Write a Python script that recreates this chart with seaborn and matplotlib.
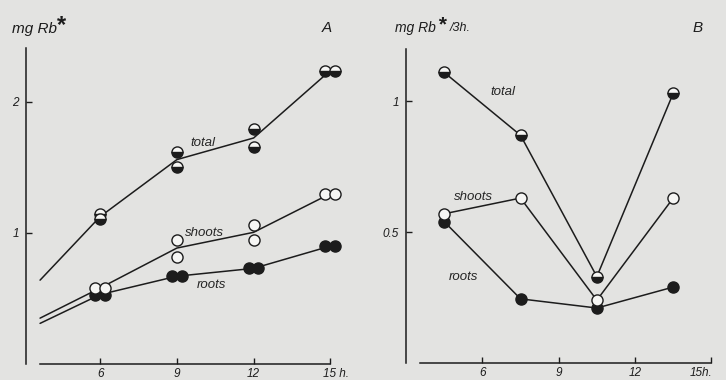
import numpy as np
import pandas as pd
import matplotlib
matplotlib.use("Agg")
import matplotlib.pyplot as plt
import matplotlib.transforms as mtransforms
import seaborn as sns

# Panel A: cumulative uptake, two replicates per time
hours_A = [6, 9, 12, 15]
t0_A = 3.65  # where the drawn lines begin
total_A_rep1 = [1.145, 1.62, 1.79, 2.24]
total_A_rep2 = [1.105, 1.50, 1.66, 2.24]
total_A_start = 0.64
shoots_A_rep1 = [0.58, 0.95, 1.06, 1.30]
shoots_A_rep2 = [0.58, 0.82, 0.95, 1.30]
shoots_A_start = 0.35
roots_A_rep1 = [0.53, 0.67, 0.73, 0.90]
roots_A_rep2 = [0.53, 0.67, 0.73, 0.90]
roots_A_start = 0.31

# Panel B: uptake per 3 h (interval midpoints)
hours_B = [4.5, 7.5, 10.5, 13.5]
total_B = [1.11, 0.87, 0.33, 1.03]
shoots_B = [0.57, 0.63, 0.24, 0.63]
roots_B = [0.54, 0.245, 0.21, 0.29]

xtick_vals = [6, 9, 12, 15]
xtick_labels_A = ["6", "9", "12", "15 h."]
xtick_labels_B = ["6", "9", "12", "15h."]

BG = "#e3e3e1"
INK = "#1c1c1c"
WHITE = "#f6f6f4"

sns.set_theme(style="ticks", rc={"axes.facecolor": BG, "figure.facecolor": BG})
plt.rcParams["font.family"] = ["Liberation Sans", "DejaVu Sans"]
plt.rcParams["font.style"] = "italic"

fig = plt.figure(figsize=(7.26, 3.80), dpi=100)
axA = fig.add_axes([26 / 726, 1 - 364 / 380, 312 / 726, 321 / 380])
axB = fig.add_axes([406 / 726, 1 - 363 / 380, 313 / 726, 322 / 380])

styles = {
    "total": dict(mfc=INK, markerfacecoloralt=WHITE, fillstyle="bottom"),
    "shoots": dict(mfc=WHITE, fillstyle="full"),
    "roots": dict(mfc=INK, fillstyle="full"),
}


def markers(ax, x, y, kind):
    ax.plot(x, y, ls="none", marker="o", ms=8, mec=INK, mew=1.0, zorder=4,
            clip_on=False, **styles[kind])


# ---- panel A ----
seriesA = [
    ("roots", roots_A_start, roots_A_rep1, roots_A_rep2),
    ("shoots", shoots_A_start, shoots_A_rep1, shoots_A_rep2),
    ("total", total_A_start, total_A_rep1, total_A_rep2),
]
for kind, start, r1, r2 in seriesA:
    mean = (np.array(r1) + np.array(r2)) / 2
    df = pd.DataFrame({"hour": [t0_A] + hours_A, "value": [start] + list(mean)})
    sns.lineplot(data=df, x="hour", y="value", ax=axA, color=INK, lw=1.1, zorder=2)
    # replicates with equal values are drawn side by side
    dx = np.where(np.abs(np.array(r1) - np.array(r2)) < 0.03, 0.19, 0.0)
    markers(axA, np.array(hours_A) - dx, r1, kind)
    markers(axA, np.array(hours_A) + dx, r2, kind)

axA.set_xlim(3.1, 15.3)
axA.set_ylim(0, 2.45)
axA.spines["left"].set_bounds(0, 2.41)
axA.spines["bottom"].set_bounds(3.65, 15)
axA.set_yticks([1, 2])
axA.set_yticklabels(["1", "2"])

axA.text(10.0, 1.69, "total", ha="center", va="center", fontsize=9.5)
axA.text(10.07, 1.0, "shoots", ha="center", va="center", fontsize=9.5)
axA.text(10.35, 0.60, "roots", ha="center", va="center", fontsize=9.5)

# ---- panel B ----
for kind, vals in [("roots", roots_B), ("shoots", shoots_B), ("total", total_B)]:
    df = pd.DataFrame({"hour": hours_B, "value": vals})
    sns.lineplot(data=df, x="hour", y="value", ax=axB, color=INK, lw=1.1, zorder=2)
    markers(axB, hours_B, vals, kind)

axB.set_xlim(3.0, 15.3)
axB.set_ylim(0, 1.23)
axB.spines["left"].set_bounds(0, 1.20)
axB.spines["bottom"].set_bounds(3.55, 15)
axB.set_yticks([0.5, 1])
axB.set_yticklabels(["0.5", "1"])

axB.text(6.8, 1.034, "total", ha="center", va="center", fontsize=9.5)
axB.text(5.64, 0.634, "shoots", ha="center", va="center", fontsize=9.5)
axB.text(5.25, 0.33, "roots", ha="center", va="center", fontsize=9.5)

for ax, labels, shift in ((axA, xtick_labels_A, 6), (axB, xtick_labels_B, -10)):
    sns.despine(ax=ax)
    for side in ("left", "bottom"):
        ax.spines[side].set_color(INK)
        ax.spines[side].set_linewidth(1.1)
    ax.set_xticks(xtick_vals)
    ax.set_xticklabels(labels)
    ax.set_xlabel("")
    ax.set_ylabel("")
    ax.tick_params(direction="in", length=4, width=1, colors=INK, labelsize=8.5)
    ax.tick_params(axis="x", pad=3)
    ax.tick_params(axis="y", pad=5)
    last = ax.get_xticklabels()[-1]
    last.set_transform(last.get_transform()
                       + mtransforms.ScaledTranslation(shift / 100, 0, fig.dpi_scale_trans))

# headings
fig.text(12 / 726, 1 - 29 / 380, "mg Rb", fontsize=11, va="center", color=INK)
fig.text(56 / 726, 1 - 26 / 380, "*", fontsize=17, fontweight="bold", va="center", color=INK)
fig.text(327 / 726, 1 - 28 / 380, "A", fontsize=11, ha="center", va="center", color=INK)
fig.text(395 / 726, 1 - 28 / 380, "mg Rb", fontsize=10, va="center", color=INK)
fig.text(437 / 726, 1 - 25 / 380, "*", fontsize=15, fontweight="bold", va="center", color=INK)
fig.text(450 / 726, 1 - 28 / 380, "/3h.", fontsize=9, va="center", color=INK)
fig.text(698 / 726, 1 - 28 / 380, "B", fontsize=11, ha="center", va="center", color=INK)

fig.savefig("out.png", dpi=100, facecolor=BG)
